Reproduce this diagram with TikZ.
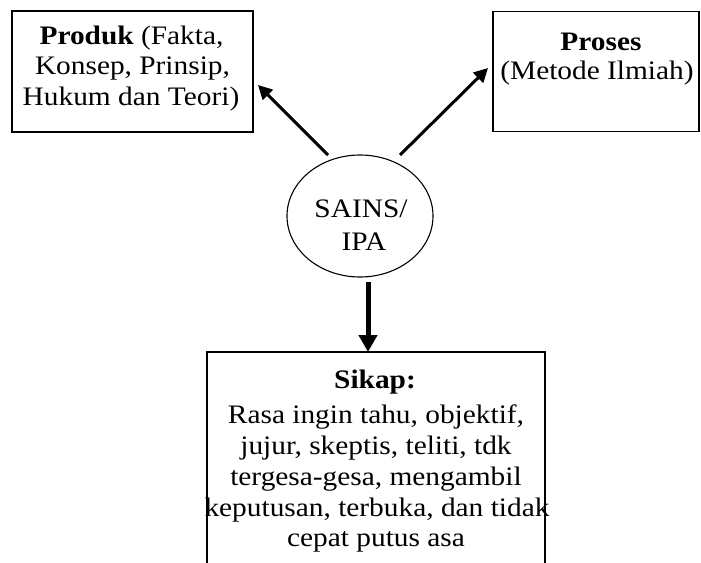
\documentclass[tikz,border=0pt]{standalone}
\usepackage{fontspec}
\setmainfont[FakeStretch=1.1]{Liberation Serif}
\usetikzlibrary{arrows.meta,shapes.geometric}
\begin{document}
\begin{tikzpicture}[x=1pt,y=1pt,
  box/.style={draw,line width=1.5pt,rectangle,inner sep=0pt,outer sep=0pt},
  oval/.style={draw,line width=1.1pt,ellipse,inner sep=0pt,outer sep=0pt},
  txt/.style={anchor=base,inner sep=0pt,font=\fontsize{26.7}{30.5}\selectfont},
  arrD/.style={line width=3pt,-{Triangle[length=14pt,width=14pt]}},
  arrB/.style={line width=5pt,-{Triangle[length=17pt,width=18pt]}}]
\useasboundingbox (0,0) rectangle (701,-562);
\fill[white] (0,0) rectangle (701,-562);
% boxes
\node[box,minimum width=241pt,minimum height=121pt] (prod) at (132.5,-71.5) {};
\node[box,minimum width=206pt,minimum height=120pt] (proc) at (596,-71.5) {};
\node[box,minimum width=338pt,minimum height=260pt] (sikap) at (376,-482) {};
\node[oval,minimum width=146pt,minimum height=122pt] (ell) at (360,-216) {};
% texts
\node[txt] (p1) at (131.5,-44) {\textbf{Produk} (Fakta,};
\node[txt] (p2) at (132.5,-74.5) {Konsep, Prinsip,};
\node[txt] (p3) at (131,-105) {Hukum dan Teori)};
\node[txt] (q1) at (601,-50) {\textbf{Proses}};
\node[txt] (q2) at (597,-79.5) {(Metode Ilmiah)};
\node[txt] (e1) at (361,-217) {SAINS/};
\node[txt] (e2) at (364,-250) {IPA};
\node[txt] (s1) at (375,-388) {\textbf{Sikap:}};
\node[txt] (s2) at (376,-423) {Rasa ingin tahu, objektif,};
\node[txt] (s3) at (376,-454) {jujur, skeptis, teliti, tdk};
\node[txt] (s4) at (376,-485) {tergesa-gesa, mengambil};
\node[txt] (s5) at (377,-516) {keputusan, terbuka, dan tidak};
\node[txt] (s6) at (376,-546) {cepat putus asa};
% connectors
\draw[arrD] ([shift={(-32,61)}]ell.center) -- ([shift={(5,47)}]prod.south east);
\draw[arrD] ([shift={(40,61)}]ell.center) -- ([shift={(-5,3.5)}]proc.west);
\draw[arrB] ([shift={(8,-5)}]ell.south) -- ([xshift=-8pt]sikap.north);
\end{tikzpicture}
\end{document}
